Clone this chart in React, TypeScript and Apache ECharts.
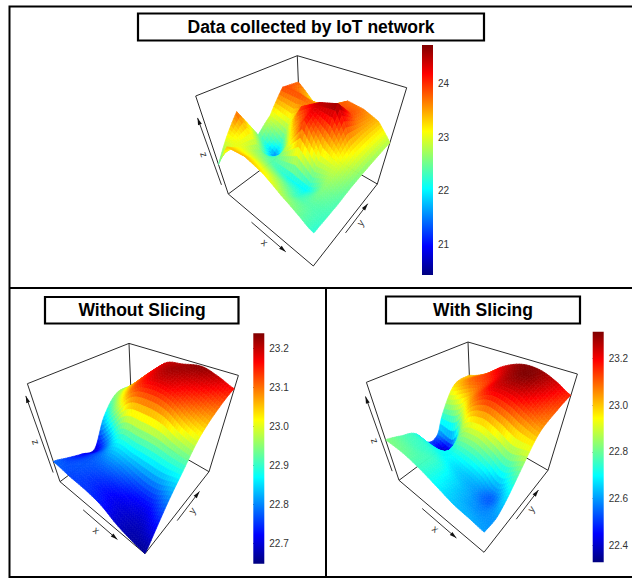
import React, { useEffect, useRef } from "react";
import * as echarts from "echarts";

const WIDTH = 632;
const HEIGHT = 578;

const titles = ["Data collected by IoT network", "Without Slicing", "With Slicing"];
const ticks1 = [21, 22, 23, 24];
const ticks2 = [22.7, 22.8, 22.9, 23.0, 23.1, 23.2];
const ticks3 = [22.4, 22.6, 22.8, 23.0, 23.2];
const range1 = [20.42, 24.73];
const range2 = [22.647, 23.238];
const range3 = [22.327, 23.314];

// z values: rows run along x, columns along y
const surface1 = [
  [22.3, 23.07, 23.8, 22.5, 23.0, 23.9, 23.8],
  [23.4, 23.0, 22.6, 21.5, 22.7, 23.9, 23.1],
  [23.45, 22.85, 22.3, 22.9, 24.0, 23.6, 23.3],
  [23.2, 22.65, 22.05, 24.1, 24.45, 23.9, 23.75],
  [22.8, 22.35, 22.0, 23.05, 24.68, 23.9, 23.65],
  [22.5, 22.4, 22.6, 22.9, 23.3, 23.4, 23.4],
  [22.2, 22.3, 22.37, 22.5, 22.6, 22.7, 22.8],
];
const surface2 = [
  [22.78, 22.75, 22.72, 22.7, 22.85, 22.95, 22.95],
  [22.76, 22.77, 22.77, 22.79, 22.97, 23.05, 23.03],
  [22.75, 22.75, 22.8, 22.9, 23.1, 23.16, 23.18],
  [22.73, 22.72, 22.78, 22.9, 23.13, 23.21, 23.21],
  [22.69, 22.7, 22.75, 22.9, 23.11, 23.18, 23.23],
  [22.67, 22.69, 22.75, 22.89, 23.05, 23.14, 23.2],
  [22.66, 22.72, 22.8, 22.89, 23.01, 23.095, 23.16],
];
const surface3 = [
  [22.82, 22.78, 22.72, 22.5, 22.76, 22.98, 23.0],
  [22.8, 22.76, 22.7, 22.4, 22.82, 23.08, 23.08],
  [22.75, 22.75, 22.7, 22.8, 23.05, 23.14, 23.22],
  [22.69, 22.68, 22.66, 22.87, 23.17, 23.26, 23.3],
  [22.64, 22.62, 22.62, 22.82, 23.15, 23.3, 23.3],
  [22.62, 22.58, 22.55, 22.75, 23.08, 23.2, 23.24],
  [22.6, 22.6, 22.68, 22.83, 23.02, 23.1, 23.16],
];

const JET = ["#00007F", "#0000FF", "#007FFF", "#00FFFF", "#7FFF7F", "#FFFF00", "#FF7F00", "#FF0000", "#7F0000"];
const JET_RGB = JET.map((c) => [1, 3, 5].map((k) => parseInt(c.slice(k, k + 2), 16)));

function jet(t: number) {
  const p = Math.max(0, Math.min(0.99999, t)) * 8;
  const i = Math.floor(p);
  const f = p - i;
  const a = JET_RGB[i];
  const b = JET_RGB[i + 1];
  return `rgb(${[0, 1, 2].map((k) => Math.round(a[k] + (b[k] - a[k]) * f)).join(",")})`;
}

// Box of the perspective view, in page pixels for the top panel.
const box = {
  L: [228.3, 194], F: [313.3, 266], R: [377.3, 184], B: [300.7, 140],
  Lt: [195.7, 96], Ft: [315, 151], Rt: [406.7, 87.7], Bt: [297.3, 55.7],
};

const panels = [
  { z: surface1, range: range1, smooth: false, sub: 7, dx: 0, dy: 0, zKnots: [20.4, 21.5, 22.3, 25], wKnots: [0.1, 0.2, 0.3, 1], zArrow: 0.74 },
  { z: surface2, range: range2, smooth: true, sub: 7, dx: -168.3, dy: 287.7, zKnots: [22.66, 23.24], wKnots: [0, 1], zArrow: 0.84 },
  { z: surface3, range: range3, smooth: true, sub: 7, dx: 170.7, dy: 286.3, zKnots: [22.33, 22.6, 23.3], wKnots: [0.07, 0.175, 0.931], zArrow: 0.82 },
];

function bil(a: number[], b: number[], c: number[], d: number[], u: number, v: number) {
  // a: u0v0, b: u1v0, c: u1v1, d: u0v1
  return [0, 1].map((k) => (a[k] * (1 - u) + b[k] * u) * (1 - v) + (d[k] * (1 - u) + c[k] * u) * v);
}

function project(p: any, u: number, v: number, w: number) {
  const g = bil(box.L, box.F, box.R, box.B, u, v);
  const t = bil(box.Lt, box.Ft, box.Rt, box.Bt, u, v);
  return [g[0] + (t[0] - g[0]) * w + p.dx, g[1] + (t[1] - g[1]) * w + p.dy];
}

function heightOf(p: any, z: number) {
  const zs = p.zKnots;
  const ws = p.wKnots;
  let i = 0;
  while (i < zs.length - 2 && z > zs[i + 1]) i++;
  return ws[i] + ((z - zs[i]) / (zs[i + 1] - zs[i])) * (ws[i + 1] - ws[i]);
}

function cr(a: number, b: number, c: number, d: number, t: number) {
  return 0.5 * (2 * b + (c - a) * t + (2 * a - 5 * b + 4 * c - d) * t * t + (3 * b - a - 3 * c + d) * t * t * t);
}

function sample(p: any, fi: number, fj: number) {
  const g = p.z;
  const n = g.length;
  const m = g[0].length;
  const i = Math.min(Math.floor(fi), n - 2);
  const j = Math.min(Math.floor(fj), m - 2);
  const s = fi - i;
  const t = fj - j;
  if (!p.smooth) {
    return (g[i][j] * (1 - t) + g[i][j + 1] * t) * (1 - s) + (g[i + 1][j] * (1 - t) + g[i + 1][j + 1] * t) * s;
  }
  const at = (a: number, b: number) => g[Math.max(0, Math.min(n - 1, a))][Math.max(0, Math.min(m - 1, b))];
  const row = (a: number) => cr(at(a, j - 1), at(a, j), at(a, j + 1), at(a, j + 2), t);
  return cr(row(i - 1), row(i), row(i + 1), row(i + 2), s);
}

function surfaceItem(p: any) {
  return (_params: any, api: any) => {
    const ci = api.value(0);
    const cj = api.value(1);
    const n = p.z.length - 1;
    const m = p.z[0].length - 1;
    const S = p.sub;
    const children: any[] = [];
    const vertex = (a: number, b: number) => {
      const fi = ci + a / S;
      const fj = cj + b / S;
      const z = sample(p, fi, fj);
      const xy = project(p, fi / n, fj / m, heightOf(p, z));
      return { z, pt: api.coord(xy) };
    };
    for (let a = 0; a < S; a++) {
      for (let b = S - 1; b >= 0; b--) {
        const q = [vertex(a, b), vertex(a + 1, b), vertex(a + 1, b + 1), vertex(a, b + 1)];
        const mean = (q[0].z + q[1].z + q[2].z + q[3].z) / 4;
        const fill = jet((mean - p.range[0]) / (p.range[1] - p.range[0]));
        children.push({
          type: "polygon",
          shape: { points: q.map((o) => o.pt) },
          style: { fill, stroke: fill, lineWidth: 0.7 },
        });
      }
    }
    return { type: "group", children };
  };
}

function frameItem(p: any) {
  return (_params: any, api: any) => {
    const c = (u: number, v: number, w: number) => api.coord(project(p, u, v, w));
    const seg = (a: number[], b: number[], stroke = "#2b2b2b", lineWidth = 1) => ({
      type: "line",
      shape: { x1: a[0], y1: a[1], x2: b[0], y2: b[1] },
      style: { stroke, lineWidth },
    });
    const arrow = (a: number[], b: number[]) => {
      const d = Math.hypot(b[0] - a[0], b[1] - a[1]);
      const ux = (b[0] - a[0]) / d;
      const uy = (b[1] - a[1]) / d;
      const back = [b[0] - ux * 7, b[1] - uy * 7];
      return [
        seg(a, b, "#333"),
        {
          type: "polygon",
          shape: { points: [b, [back[0] - uy * 2, back[1] + ux * 2], [back[0] + uy * 2, back[1] - ux * 2]] },
          style: { fill: "#111" },
        },
      ];
    };
    const label = (text: string, pt: number[], rotation: number) => ({
      type: "text",
      x: pt[0],
      y: pt[1],
      rotation,
      style: { text, fill: "#333", font: "10px 'Liberation Sans'", align: "center", verticalAlign: "middle" },
    });
    const children = [
      seg(c(0, 0, 1), c(0, 1, 1)),
      seg(c(0, 1, 1), c(1, 1, 1)),
      seg(c(0, 0, 0), c(0, 0, 1)),
      seg(c(1, 1, 0), c(1, 1, 1)),
      seg(c(0, 1, 0), c(0, 1, 1)),
      seg(c(0, 0, 0), c(1, 0, 0)),
      seg(c(1, 0, 0), c(1, 1, 0)),
      seg(c(0, 0, 0), c(0, 1, 0)),
      seg(c(0, 1, 0), c(1, 1, 0)),
      ...arrow(c(0.33, -0.07, 0), c(0.73, -0.07, 0)),
      ...arrow(c(1.05, 0.44, 0), c(1.05, 0.79, 0)),
      ...arrow(c(-0.06, 0, 0.05), c(-0.06, 0, p.zArrow)),
      label("x", c(0.54, -0.14, 0), -0.7),
      label("y", c(1.11, 0.6, 0), 0.92),
      label("z", c(-0.18, 0, 0.275), 1.9),
    ];
    return { type: "group", children };
  };
}

const barRects = [
  { left: 422, top: 45, width: 11, height: 230, ticks: ticks1, range: range1, digits: 0 },
  { left: 253.3, top: 333.3, width: 11, height: 230.4, ticks: ticks2, range: range2, digits: 1 },
  { left: 592.7, top: 331.7, width: 11, height: 230.6, ticks: ticks3, range: range3, digits: 1 },
];

const titleBoxes = [
  { x: 138, y: 13.5, w: 346, h: 27, cx: 311, cy: 27.5 },
  { x: 45, y: 297, w: 193.5, h: 26.5, cx: 142, cy: 310.5 },
  { x: 386, y: 296.5, w: 194, h: 27, cx: 483, cy: 310.5 },
];

function buildOption() {
  const gradient = new echarts.graphic.LinearGradient(
    0, 0, 0, 1,
    JET.slice().reverse().map((color, i) => ({ offset: i / 8, color }))
  );
  const series: any[] = [];
  panels.forEach((p, idx) => {
    series.push({
      type: "custom",
      xAxisIndex: 0,
      yAxisIndex: 0,
      coordinateSystem: "cartesian2d",
      silent: true,
      clip: false,
      data: [[idx, 0]],
      renderItem: frameItem(p),
    });
    const cells: number[][] = [];
    for (let i = 0; i < p.z.length - 1; i++) {
      for (let j = p.z[0].length - 2; j >= 0; j--) cells.push([i, j]);
    }
    series.push({
      type: "custom",
      xAxisIndex: 0,
      yAxisIndex: 0,
      coordinateSystem: "cartesian2d",
      silent: true,
      clip: false,
      data: cells,
      renderItem: surfaceItem(p),
    });
    series.push({
      type: "custom",
      xAxisIndex: idx + 1,
      yAxisIndex: idx + 1,
      coordinateSystem: "cartesian2d",
      silent: true,
      clip: false,
      data: [[0, p.range[1]]],
      renderItem: (_: any, api: any) => {
        const a = api.coord([0, p.range[1]]);
        const b = api.coord([1, p.range[0]]);
        return {
          type: "rect",
          shape: { x: a[0], y: a[1], width: b[0] - a[0], height: b[1] - a[1] },
          style: { fill: gradient },
        };
      },
    });
  });

  return {
    animation: false,
    backgroundColor: "#fff",
    title: titles.map((text, i) => ({
      text,
      left: titleBoxes[i].cx,
      top: titleBoxes[i].cy - 9.5,
      textAlign: "center",
      z: 10,
      padding: 0,
      textStyle: { fontFamily: "Liberation Sans", fontWeight: "bold", fontSize: 17.5, color: "#000" },
    })),
    grid: [
      { left: 0, top: 0, width: WIDTH, height: HEIGHT },
      ...barRects.map((b) => ({ left: b.left, top: b.top, width: b.width, height: b.height })),
    ],
    xAxis: [
      { type: "value", gridIndex: 0, min: 0, max: WIDTH, show: false },
      ...barRects.map((_, i) => ({ type: "value", gridIndex: i + 1, min: 0, max: 1, show: false })),
    ],
    yAxis: [
      { type: "value", gridIndex: 0, min: 0, max: HEIGHT, inverse: true, show: false },
      ...barRects.map((b, i) => ({
        type: "value",
        gridIndex: i + 1,
        position: "right",
        min: b.range[0],
        max: b.range[1],
        splitLine: { show: false },
        axisLine: { show: false },
        axisTick: { show: true, length: 5, customValues: b.ticks, lineStyle: { color: "#333", width: 1 } },
        axisLabel: {
          show: true,
          margin: 5,
          customValues: b.ticks,
          color: "#333",
          fontSize: 10,
          fontFamily: "Liberation Sans",
          formatter: (v: number) => v.toFixed(b.digits),
        },
      })),
    ],
    graphic: [
      {
        type: "polyline",
        silent: true,
        shape: { points: [[WIDTH + 2, 6.5], [9.5, 6.5], [9.5, 577], [WIDTH + 2, 577]] },
        style: { stroke: "#000", lineWidth: 2, fill: "none" },
      },
      { type: "line", silent: true, shape: { x1: 9.5, y1: 288, x2: WIDTH + 2, y2: 288 }, style: { stroke: "#000", lineWidth: 2 } },
      { type: "line", silent: true, shape: { x1: 326, y1: 288, x2: 326, y2: 577 }, style: { stroke: "#000", lineWidth: 2 } },
      ...titleBoxes.map((b) => ({
        type: "rect",
        silent: true,
        shape: { x: b.x, y: b.y, width: b.w, height: b.h },
        style: { fill: "#fff", stroke: "#000", lineWidth: 2.2 },
      })),
    ],
    series,
  };
}

export default function App() {
  const ref = useRef<HTMLDivElement>(null);
  useEffect(() => {
    document.body.style.margin = "0";
    const chart = echarts.init(ref.current as HTMLDivElement, undefined, { renderer: "svg", width: WIDTH, height: HEIGHT });
    chart.setOption(buildOption() as any);
    return () => chart.dispose();
  }, []);
  return <div ref={ref} style={{ width: WIDTH, height: HEIGHT }} />;
}
